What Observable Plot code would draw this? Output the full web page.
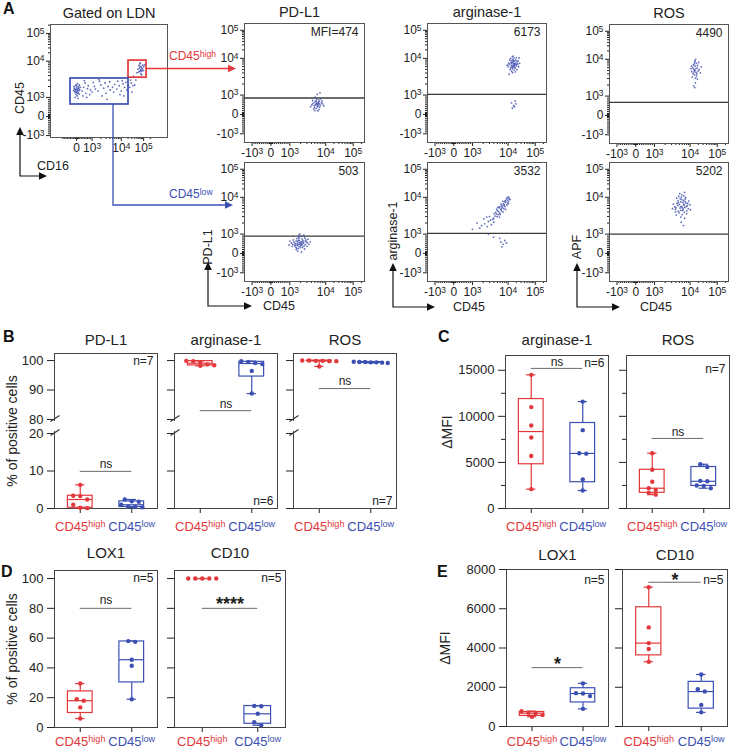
<!DOCTYPE html>
<html><head><meta charset="utf-8">
<script src="https://cdn.jsdelivr.net/npm/d3@7"></script>
<script src="https://cdn.jsdelivr.net/npm/@observablehq/plot@0.6"></script>
<style>
html,body{margin:0;padding:0;background:#fff;overflow:hidden}
#root{position:relative;width:732px;height:748px;color:#222}
#root svg{position:absolute;left:0;top:0}
</style></head><body><div id="root"></div>
<script>
// ---------------- DATA ----------------
// Flow cytometry events (raw fluorescence intensities, [x, y])
const gateEvents = [[-80,1650],[20,1500],[-150,1800],[60,1300],[120,2000],[-40,1200],[-120,1450],[80,1750],[150,1550],[0,1900],[-60,2200],[40,1100],[200,1650],[-200,1550],[100,1400],[-20,1700],[160,1250],[-100,1000],[50,2400],[230,1900],[-170,2000],[10,1350],[130,1800],[-50,1550],[70,1600],[-90,1350],[180,2200],[-10,2100],[90,950],[-130,1700],
[350,1500],[450,1900],[600,1300],[750,2100],[900,1600],[400,1100],[550,2500],[700,1750],[1000,1400],[1200,2000],[850,1200],[1300,1700],[500,2900],[650,1000],[1100,2600],
[1600,1500],[2000,2200],[2500,1800],[3000,1300],[1800,2800],[3500,2000],[4200,1600],[2800,2500],[5000,1900],[2200,1100],[4000,2700],[5500,1400],[3200,900],[6000,2300],[1700,3100],
[7000,1700],[8500,2100],[10000,1500],[12000,2400],[9000,1200],[14000,1900],[16000,2600],[11000,2900],[18000,1600],[20000,2200],[7500,2800],[13000,1100],
[24000,1900],[28000,2500],[30000,1400],[26000,3000],[33000,2100],
[73000,5800],[65000,6500],[80000,5200],[70000,7200],[85000,6300],[60000,5000],[75000,4500],[90000,7800],[68000,8500],[78000,6800],[55000,6000],[95000,5500],[62000,7600],[82000,4200],[72000,9000],[88000,6000],[50000,4800],[100000,7000],[76000,5500],[66000,5300],
[45000,3000],[40000,2200],[110000,8000],[35000,3800]];
const gates = [{name:"CD45high", x:[21000,135000], y:[3500,10500]}, {name:"CD45low", x:[-400,21000], y:[630,3330]}];

const pdl1High = [[5700,550],[5200,500],[6200,590],[4800,450],[6700,540],[5500,660],[5900,400],[4400,560],[7100,470],[5300,700],[6400,740],[4900,350],[5800,480],[7600,610],[4100,500],[5600,780],[6800,370],[4800,640],[6300,430],[8200,540],[3800,400],[5500,310],[6600,680],[5400,570],[6000,530],[7200,800],[4600,280],[6500,250],[7900,700],[5100,900],[5800,1050],[6900,1150],[4300,720],[8900,440],[6200,620],[5000,200],[6000,180]];
const arg1High = [[15200,6500],[13300,7200],[17200,5900],[12200,5500],[18900,7400],[15500,8100],[14400,5200],[17800,6700],[11100,6900],[20500,6200],[13900,8600],[16600,4800],[16100,7300],[12800,7800],[21600,8000],[10000,6000],[15000,9400],[18300,5400],[13500,4400],[22700,7000],[11600,8900],[19400,9000],[16400,10200],[10500,7400],[24400,5900],[13100,6300],[17500,8400],[14600,4100],[20000,10600],[9400,6500],[18600,4300],[14200,11300],[23300,8600],[12000,4900],[15800,5700],[26600,7300],[15300,12000],[12400,9800],[21100,4900],[16900,6400],[10900,3700],[19700,6800],[14000,7600],[25500,10300],[16200,8700],[14800,6000],[17000,7000],[13700,5800],
[13300,600],[16100,450],[18300,700],[14400,320],[17200,400],[19400,550]];
const rosHigh = [[15200,4900],[13800,5400],[16800,4400],[12900,4000],[18100,5800],[15500,6500],[12500,5900],[17200,3500],[14600,3800],[19800,4800],[14200,7500],[16400,5600],[11600,4600],[18900,6800],[15900,3100],[13300,7000],[21500,5200],[14800,8500],[17700,4000],[12000,3300],[14500,5000],[24000,4300],[10800,5500],[17000,7800],[15700,2300],[18500,2900],[13600,1900],[20600,8200],[15100,9000],[11200,6500],[25800,6200],[13900,4500],[16000,10000],[14900,1700]];
const pdl1Low = [[1860,550],[1600,500],[2100,600],[1400,440],[2400,540],[1700,670],[2000,400],[1300,590],[2700,470],[1800,370],[2200,740],[1500,640],[1900,480],[2900,600],[1200,470],[1750,840],[2500,390],[1450,330],[2100,500],[3100,550],[1650,590],[1100,540],[2300,670],[1950,300],[1550,770],[2800,700],[1350,400],[2150,440],[1800,940],[3400,470],[1000,640],[1700,250],[2600,800],[1250,700],[2050,870],[3000,370],[1500,200],[2250,320],[3700,600],[1150,370],[1900,1000],[2450,940],[1600,410],[2350,580],[1850,660],[1400,520],[2700,640],[2000,570],[1700,470],[2200,470],[950,440],[3200,740],[1550,280],[2550,230],[1800,770],[1650,120],[2100,80]];
const arg1Low = [[5400,4100],[4700,3500],[6200,4700],[4300,3100],[6900,5400],[5000,4400],[5800,3700],[3900,2700],[7800,6300],[6700,5900],[4500,3900],[6500,4300],[8700,7300],[9500,8400],[7400,6700],[5600,5200],[4900,3000],[8200,5600],[3700,2500],[10300,7800],[7600,4900],[5900,5600],[9000,9200],[11000,9000],[8400,8100],[5300,3400],[7200,4000],[4100,3600],[6400,6500],[9900,6900],[5700,2900],[8000,7600],[10600,10100],[7100,7800],[4800,4800],[9300,6200],[3200,2400],[6600,5000],[11800,8700],[8500,4700],[4000,2100],[5200,5400],[7700,6000],[9700,9900],[6000,3400],[10100,6700],
[2800,2200],[2200,1900],[1800,1700],[2600,1600],[2100,2600],[1600,1450],[3000,3000],[1350,2000],[3400,1800],[1000,1350],[2500,2900],
[6300,580],[7300,470],[8100,670],[6700,340],[9000,540],[5800,780],[2800,1000],[3900,840]];
const apfLow = [[5800,5700],[5200,5100],[6600,6500],[4500,6000],[6200,4400],[5500,7500],[7100,5300],[3900,4700],[6500,8300],[4900,3800],[7700,7000],[6000,3400],[4300,6900],[6900,3900],[5300,9100],[8300,5900],[3700,5500],[5700,10100],[7300,9000],[4700,4200],[8900,4900],[4100,3300],[6300,7300],[5000,6400],[8000,3600],[6700,11200],[3400,6500],[5500,2900],[9200,7900],[4600,8100],[5900,12300],[7000,2700],[3900,4000],[7500,9800],[5400,5500],[6400,4800],[3200,4900],[9900,6200],[4800,10700],[6800,6100],[5600,2100],[4200,9500],[8100,4300],[5100,13600],[7200,7700],[6100,5200],[8600,6800],[4000,5200],[6500,1700],[4700,7200],[10300,4600],[7000,14900],[5500,4400],[5800,8700],[7800,5600]];
const mfiLabels = {pdl1High:"MFI=474", arg1High:"6173", rosHigh:"4490", pdl1Low:"503", arg1Low:"3532", apfLow:"5202"};
const thresholds = {pdl1High:850, arg1High:1050, rosHigh:680, pdl1Low:900, arg1Low:1050, apfLow:1000};
const flowTickValues = [-1000, 0, 1000, 10000, 100000];
const flowTickLabels = ["-10^3", "0", "10^3", "10^4", "10^5"];

// Summary panels (one value per donor)
const groupNames = ["CD45high", "CD45low"];
const bPDL1 = {high:[6.3,3.4,3.3,2.4,1.0,0.2,0.1], low:[2.4,1.9,1.8,1.0,0.5,0.4,0.3]};
const bArg1 = {high:[99.9,99.8,99.5,98.7,98.4,98.2], low:[99.8,99.5,99.2,98.8,96.5,88.8]};
const bROS  = {high:[100,100,99.9,99.9,99.8,99.8,98.0], low:[99.6,99.5,99.5,99.4,99.4,99.3,99.2]};
const cArg1 = {high:[14500,11000,9000,7700,5700,2100], low:[11600,8500,6000,5950,3150,1950]};
const cROS  = {high:[6000,4200,2900,2200,2000,1700,1500], low:[4800,4500,3000,2950,2500,2450,2200]};
const dLOX1 = {high:[29.5,19,18,13.5,6], low:[58,57.5,45.5,41.5,19]};
const dCD10 = {high:[100,100,100,100,100], low:[14.5,14.3,9.2,3.5,1.5]};
const eLOX1 = {high:[780,700,680,580,500], low:[2200,1700,1680,1550,900]};
const eCD10 = {high:[7100,5050,4250,3950,3300], low:[2650,1900,1780,1100,720]};

// ---------------- RENDERING ----------------
const RED = "#e3383b", BLUE = "#3b50b2", DOT = "#4352b0";
const FONT = '"Liberation Sans", Arial, Helvetica, sans-serif';
const W = 732, H = 748;
const root = document.getElementById("root");
const baseStyle = {background:"none", overflow:"visible", fontFamily:FONT, position:"absolute", left:"0px", top:"0px", color:"#222"};
const box = (L,R,T,B) => ({width:W, height:H, marginLeft:L, marginRight:W-R, marginTop:T, marginBottom:H-B});

// biexponential-like display transform (linear to ±10^3, log above)
function g(v){ const a=Math.abs(v); if(a<=1000) return v/1000; const t=Math.log10(a/1000); const k = t<=1 ? 1.9*t : 1.9+1.45*(t-1); return Math.sign(v)*(1+k); }
const minorVals = [...d3.range(-900,1000,100).filter(v=>v!==0), ...d3.range(-90,100,10).filter(v=>v!==0),
  ...d3.range(2000,10000,1000), ...d3.range(20000,100000,10000), 200000];

// broken axis display transform for panel B (0–20 below break, 80–100 above)
function brk(v){ if (v<=20) return v; if (v>=80) return 23.733 + (v-80)*0.7857; return 20 + (v-20)/60*3.733; }

function flowPlot(p){
  const inside = d => v => { const u=g(v); return u>=d[0] && u<=d[1]; };
  const lab = new Map(flowTickValues.map((v,i)=>[g(v), flowTickLabels[i]]));
  const xMaj = (p.xMajors || flowTickValues).filter(inside(p.xd)).map(g);
  const yMaj = flowTickValues.filter(inside(p.yd)).map(g);
  const marks = [
    Plot.axisX(minorVals.filter(inside(p.xd)).map(g), {tickSize:2, tickFormat:()=>"", label:null}),
    Plot.axisY(minorVals.filter(inside(p.yd)).map(g), {tickSize:2, tickFormat:()=>"", label:null}),
    Plot.axisX(xMaj, {tickSize:4, tickPadding:2, tickFormat:d=>lab.get(d), fontSize:12, label:null}),
    Plot.axisY(yMaj, {tickSize:4, tickPadding:2, tickFormat:d=>lab.get(d), fontSize:12, label:null}),
    Plot.frame({stroke:"#555"})
  ];
  if (p.thr != null) marks.push(Plot.ruleY([g(p.thr)], {stroke:"#3a3a3a", strokeWidth:1.3}));
  marks.push(Plot.dot(p.pts, {x:d=>g(d[0]), y:d=>g(d[1]), r:0.9, fill:DOT, fillOpacity:0.85, stroke:"none"}));
  if (p.gates) {
    marks.push(Plot.rect([p.gates[0]], {x1:d=>g(d.x[0]), x2:d=>g(d.x[1]), y1:d=>g(d.y[0]), y2:d=>g(d.y[1]), stroke:RED, strokeWidth:1.7, fill:"none"}));
    marks.push(Plot.rect([p.gates[1]], {x1:d=>g(d.x[0]), x2:d=>g(d.x[1]), y1:d=>g(d.y[0]), y2:d=>g(d.y[1]), stroke:BLUE, strokeWidth:1.7, fill:"none"}));
  }
  if (p.title) marks.push(Plot.text([p.title], {frameAnchor:"top", dy:-11, dx:p.titleDx||0, fontSize:14.5, lineAnchor:"middle"}));
  if (p.mfi) marks.push(Plot.text([p.mfi], {frameAnchor:"top-right", dx:-6, dy:9, fontSize:12, textAnchor:"end", lineAnchor:"middle"}));
  return Plot.plot({...box(p.L,p.R,p.T,p.B), x:{domain:p.xd}, y:{domain:p.yd}, style:baseStyle, marks});
}

function prismQ(s, p){ const n=s.length; let pos=p*(n+1); if(pos<1) pos=1; if(pos>n) pos=n; const lo=Math.floor(pos), f=pos-lo; return lo>=n ? s[n-1] : s[lo-1]+f*(s[lo]-s[lo-1]); }

function boxPanel(p){
  const tf = p.tf || (v=>v);
  const ys = d3.scaleLinear(p.yd, [p.B, p.T]);
  const xs = d3.scaleLinear([-0.5,1.5],[p.L,p.R]);
  const pxu = (p.R-p.L)/2;
  const colors = [RED, BLUE];
  const tickMap = new Map(p.ticks.map(v=>[tf(v), v]));
  const marks = [];
  marks.push(Plot.axisY(p.ticks.map(tf), {tickSize:7, tickPadding:4, fontSize:13, label:null, tickFormat: p.labels ? (d=>String(tickMap.get(d))) : (()=>"")}));
  if (p.minor) marks.push(Plot.axisY(p.minor.map(tf), {tickSize:4, tickFormat:()=>"", label:null}));
  marks.push(Plot.axisX([0,1], {tickSize:5, tickFormat:()=>"", label:null}));
  marks.push(Plot.frame({stroke:"#444"}));
  if (p.broken) {
    marks.push(Plot.rect([0], {x1:()=>xs.invert(p.L-5), x2:()=>xs.invert(p.L+4), y1:()=>ys.invert(431), y2:()=>ys.invert(421), fill:"white"}));
    const sl = [[p.L-4,421,p.L+5,415],[p.L-4,435,p.L+5,429]].map(a=>({x1:xs.invert(a[0]),y1:ys.invert(a[1]),x2:xs.invert(a[2]),y2:ys.invert(a[3])}));
    marks.push(Plot.link(sl, {x1:"x1",y1:"y1",x2:"x2",y2:"y2", stroke:"#333", strokeWidth:1.2}));
  }
  if (p.sig) {
    marks.push(Plot.ruleY([tf(p.sig.y)], {x1:()=>0, x2:()=>1, stroke:"#6a6a6a", strokeWidth:1}));
    marks.push(Plot.text([p.sig.text], {x:()=>0.5, y:()=>tf(p.sig.y), dy:p.sig.dy, fontSize:p.sig.size||12, fontWeight:p.sig.bold?"bold":"normal", lineAnchor:"middle"}));
  }
  [p.data.high, p.data.low].forEach((vals, gi) => {
    const c = colors[gi];
    const s = [...vals].sort(d3.ascending);
    const st = {min:tf(s[0]), max:tf(s[s.length-1]), q1:tf(prismQ(s,.25)), med:tf(prismQ(s,.5)), q3:tf(prismQ(s,.75))};
    marks.push(Plot.ruleX([st], {x:()=>gi, y1:"min", y2:"q1", stroke:c, strokeWidth:1.2}));
    marks.push(Plot.ruleX([st], {x:()=>gi, y1:"q3", y2:"max", stroke:c, strokeWidth:1.2}));
    marks.push(Plot.ruleY([st], {y:"max", x1:()=>gi-0.09, x2:()=>gi+0.09, stroke:c, strokeWidth:1.2}));
    marks.push(Plot.ruleY([st], {y:"min", x1:()=>gi-0.09, x2:()=>gi+0.09, stroke:c, strokeWidth:1.2}));
    if (st.q3 > st.q1) {
      marks.push(Plot.rect([st], {x1:()=>gi-0.24, x2:()=>gi+0.24, y1:"q1", y2:"q3", stroke:c, strokeWidth:1.2, fill:"none"}));
      marks.push(Plot.ruleY([st], {y:"med", x1:()=>gi-0.24, x2:()=>gi+0.24, stroke:c, strokeWidth:1.2}));
    }
    // spread overlapping points horizontally
    const desc = [...vals].sort((a,b)=>b-a);
    const clusters = []; let cur = [];
    desc.forEach(v => { if (cur.length && Math.abs(ys(tf(v))-ys(tf(cur[0])))>4.5) { clusters.push(cur); cur=[]; } cur.push(v); });
    clusters.push(cur);
    const pts = [];
    clusters.forEach(cl => { const k=cl.length; const sp = k>1 ? Math.min(7, 34/(k-1)) : 0; cl.forEach((v,j)=>pts.push({x: gi + (j-(k-1)/2)*sp/pxu, y:tf(v)})); });
    marks.push(Plot.dot(pts, {x:"x", y:"y", r:2.2, fill:c, stroke:"none"}));
    marks.push(Plot.text([groupNames[gi]], {x:()=>gi, frameAnchor:"bottom", dy:p.catDy, fill:c, fontSize:13, lineAnchor:"middle"}));
  });
  marks.push(Plot.text([p.title], {frameAnchor:"top", dy:p.titleDy, fontSize:15, lineAnchor:"middle"}));
  if (p.n) marks.push(Plot.text([p.n.text], {frameAnchor: p.n.top ? "top-right" : "bottom-right", dx:-4, dy:p.n.dy, fontSize:12, textAnchor:"end", lineAnchor:"middle"}));
  if (p.yLabel) marks.push(Plot.text([p.yLabel], {frameAnchor:"left", dx:p.yLabelDx, rotate:-90, fontSize:14, lineAnchor:"middle", textAnchor:"middle"}));
  return Plot.plot({...box(p.L,p.R,p.T,p.B), x:{domain:[-0.5,1.5]}, y:{domain:p.yd}, style:baseStyle, marks});
}

const svgs = [];
const XD = [-1.4, 4.95], YD = [-1.45, 4.7];
svgs.push(flowPlot({L:50,R:167,T:24,B:137, xd:[-1.7,5.9], yd:[-1.1,4.82], pts:gateEvents, gates, title:"Gated on LDN", xMajors:[0,1000,10000,100000]}));
svgs.push(flowPlot({L:244,R:364,T:23,B:142, xd:XD, yd:YD, pts:pdl1High, thr:thresholds.pdl1High, mfi:mfiLabels.pdl1High, title:"PD-L1", titleDx:-5}));
svgs.push(flowPlot({L:427,R:546,T:23,B:142, xd:XD, yd:YD, pts:arg1High, thr:thresholds.arg1High, mfi:mfiLabels.arg1High, title:"arginase-1"}));
svgs.push(flowPlot({L:609,R:728,T:24,B:143, xd:XD, yd:YD, pts:rosHigh, thr:thresholds.rosHigh, mfi:mfiLabels.rosHigh, title:"ROS"}));
svgs.push(flowPlot({L:244,R:364,T:162,B:281, xd:XD, yd:YD, pts:pdl1Low, thr:thresholds.pdl1Low, mfi:mfiLabels.pdl1Low}));
svgs.push(flowPlot({L:427,R:546,T:162,B:281, xd:XD, yd:YD, pts:arg1Low, thr:thresholds.arg1Low, mfi:mfiLabels.arg1Low}));
svgs.push(flowPlot({L:609,R:728,T:162,B:281, xd:XD, yd:YD, pts:apfLow, thr:thresholds.apfLow, mfi:mfiLabels.apfLow}));

const BYD = [0, brk(102.4)], BT = [0,10,20,80,90,100];
svgs.push(boxPanel({L:54,R:157,T:353,B:508, yd:BYD, tf:brk, ticks:BT, labels:true, broken:true, data:bPDL1, title:"PD-L1", titleDy:-13, catDy:18, n:{text:"n=7", top:true, dy:8}, sig:{y:9.9, text:"ns", dy:-7}, yLabel:"% of positive cells", yLabelDx:-42}));
svgs.push(boxPanel({L:174,R:277,T:353,B:508, yd:BYD, tf:brk, ticks:BT, labels:false, broken:true, data:bArg1, title:"arginase-1", titleDy:-13, catDy:18, n:{text:"n=6", top:false, dy:-7}, sig:{y:83, text:"ns", dy:-7}}));
svgs.push(boxPanel({L:293,R:396,T:353,B:508, yd:BYD, tf:brk, ticks:BT, labels:false, broken:true, data:bROS, title:"ROS", titleDy:-13, catDy:18, n:{text:"n=7", top:false, dy:-7}, sig:{y:90.5, text:"ns", dy:-7}}));

const CT = [0,5000,10000,15000], CM = [2500,7500,12500];
svgs.push(boxPanel({L:505,R:608,T:355,B:508, yd:[0,16600], ticks:CT, minor:CM, labels:true, data:cArg1, title:"arginase-1", titleDy:-15, catDy:18, n:{text:"n=6", top:true, dy:8}, sig:{y:15200, text:"ns", dy:-6}, yLabel:"ΔMFI", yLabelDx:-58}));
svgs.push(boxPanel({L:626,R:729,T:355,B:508, yd:[0,16600], ticks:CT, minor:CM, labels:false, data:cROS, title:"ROS", titleDy:-15, catDy:18, n:{text:"n=7", top:true, dy:14}, sig:{y:7600, text:"ns", dy:-6}}));

const DT = [0,20,40,60,80,100];
svgs.push(boxPanel({L:54,R:157,T:570,B:727, yd:[0,105.4], ticks:DT, labels:true, data:dLOX1, title:"LOX1", titleDy:-17, catDy:14, n:{text:"n=5", top:true, dy:8}, sig:{y:80, text:"ns", dy:-8}, yLabel:"% of positive cells", yLabelDx:-42}));
svgs.push(boxPanel({L:174,R:285,T:570,B:727, yd:[0,105.4], ticks:DT, labels:false, data:dCD10, title:"CD10", titleDy:-17, catDy:14, n:{text:"n=5", top:true, dy:8}, sig:{y:80, text:"****", dy:-4, size:18, bold:true}}));

const ET = [0,2000,4000,6000,8000];
svgs.push(boxPanel({L:506,R:608,T:569,B:726, yd:[0,8000], ticks:ET, labels:true, data:eLOX1, title:"LOX1", titleDy:-14, catDy:15, n:{text:"n=5", top:true, dy:11}, sig:{y:3000, text:"*", dy:-3, size:18, bold:true}, yLabel:"ΔMFI", yLabelDx:-61}));
svgs.push(boxPanel({L:622,R:727,T:569,B:726, yd:[0,8000], ticks:ET, labels:false, data:eCD10, title:"CD10", titleDy:-14, catDy:15, n:{text:"n=5", top:true, dy:11}, sig:{y:7350, text:"*", dy:-2, size:18, bold:true}}));

svgs.forEach(s => root.appendChild(s));

// ---------------- ANNOTATION OVERLAY ----------------
const NS = "http://www.w3.org/2000/svg";
const ov = d3.create("svg").attr("width",W).attr("height",H).style("font-family",FONT).style("overflow","visible");
function addSupText(sel, x, y, base, sup, opt={}){
  const t = sel.append("text").attr("x",x).attr("y",y).attr("font-size",opt.size||12).attr("fill",opt.fill||"#222");
  t.append("tspan").text(base);
  if (sup) t.append("tspan").attr("dy","-0.4em").attr("font-size","0.72em").text(sup);
  return t;
}
[["A",3,14],["B",3,342],["C",438,342],["D",1,577],["E",437,577]].forEach(([l,x,y]) =>
  ov.append("text").attr("x",x).attr("y",y).attr("font-size",16).attr("font-weight","bold").attr("fill","#111").text(l));

function headRight(x,y,c){ ov.append("polygon").attr("points",`${x},${y} ${x-8},${y-3.8} ${x-8},${y+3.8}`).attr("fill",c); }
function headUp(x,y,c){ ov.append("polygon").attr("points",`${x},${y} ${x-3.8},${y+8} ${x+3.8},${y+8}`).attr("fill",c); }
// gate connectors
ov.append("path").attr("d","M146,68.5H229").attr("stroke",RED).attr("stroke-width",1.3).attr("fill","none");
headRight(236,68.5,RED);
addSupText(ov,169,60,"CD45","high",{fill:RED,size:12});
ov.append("path").attr("d","M113,104V205H226").attr("stroke",BLUE).attr("stroke-width",1.3).attr("fill","none");
headRight(233,205,BLUE);
addSupText(ov,169,198,"CD45","low",{fill:BLUE,size:12});
// FlowJo-style axis arrows
const axArrows = [
  {x:20,y:176,up:127,right:47,yl:"CD45",ylc:98,xl:"CD16",xlx:37,xly:170},
  {x:208,y:306,up:262,right:252,yl:"PD-L1",ylc:247,xl:"CD45",xlx:263,xly:310},
  {x:393,y:307,up:263,right:435,yl:"arginase-1",ylc:231,xl:"CD45",xlx:453,xly:311},
  {x:577,y:307,up:263,right:620,yl:"APF",ylc:247,xl:"CD45",xlx:640,xly:311}
];
axArrows.forEach(a => {
  ov.append("path").attr("d",`M${a.x},${a.up+6}V${a.y}H${a.right-6}`).attr("stroke","#111").attr("stroke-width",1.2).attr("fill","none");
  headUp(a.x,a.up,"#111"); headRight(a.right,a.y,"#111");
  ov.append("text").attr("transform",`translate(${a.x+4},${a.ylc}) rotate(-90)`).attr("text-anchor","middle").attr("font-size",12.5).attr("fill","#222").text(a.yl);
  ov.append("text").attr("x",a.xlx).attr("y",a.xly).attr("font-size",12.5).attr("fill","#222").text(a.xl);
});
root.appendChild(ov.node());

// superscripts in Plot-generated texts
root.querySelectorAll("text").forEach(t => {
  if (t.children.length) return;
  const s = t.textContent;
  let m = s.match(/^(-?10)\^(\d)$/);
  if (!m) m = s.match(/^(CD45)(high|low)$/);
  if (m) {
    t.textContent = m[1];
    const ts = document.createElementNS(NS,"tspan");
    ts.setAttribute("dy","-0.42em"); ts.setAttribute("font-size","0.7em"); ts.textContent = m[2];
    t.appendChild(ts);
  }
});
</script></body></html>
